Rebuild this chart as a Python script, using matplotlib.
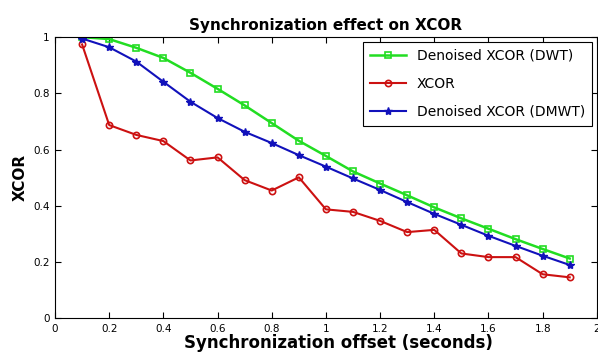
import matplotlib
matplotlib.use("Agg")
import matplotlib.pyplot as plt

offset = [0.1, 0.2, 0.3, 0.4, 0.5, 0.6, 0.7, 0.8, 0.9, 1.0,
          1.1, 1.2, 1.3, 1.4, 1.5, 1.6, 1.7, 1.8, 1.9]
dwt = [1.000, 0.993, 0.962, 0.926, 0.873, 0.816, 0.757, 0.694, 0.631, 0.577,
       0.522, 0.479, 0.437, 0.394, 0.355, 0.318, 0.281, 0.246, 0.212]
xcor = [0.974, 0.687, 0.652, 0.630, 0.561, 0.572, 0.491, 0.454, 0.501, 0.387,
        0.378, 0.346, 0.306, 0.314, 0.230, 0.217, 0.217, 0.156, 0.145]
dmwt = [0.995, 0.964, 0.913, 0.841, 0.770, 0.712, 0.663, 0.623, 0.580, 0.539,
        0.497, 0.456, 0.413, 0.371, 0.332, 0.293, 0.257, 0.222, 0.189]

xticks = [0, 0.2, 0.4, 0.6, 0.8, 1, 1.2, 1.4, 1.6, 1.8, 2]
xtick_labels = ["0", "0.2", "0.4", "0.6", "0.8", "1", "1.2", "1.4", "1.6", "1.8", "2"]
yticks = [0, 0.2, 0.4, 0.6, 0.8, 1]
ytick_labels = ["0", "0.2", "0.4", "0.6", "0.8", "1"]

fig = plt.figure(figsize=(5.98, 3.57), dpi=100)
ax = fig.add_axes([0.092, 0.109, 0.906, 0.787])

ax.plot(offset, dwt, color="#22dd22", marker="s", markersize=5, markerfacecolor="none",
        markeredgewidth=1.2, linewidth=1.8, label="Denoised XCOR (DWT)")
ax.plot(offset, xcor, color="#cc1111", marker="o", markersize=4.5, markerfacecolor="none",
        markeredgewidth=1.2, linewidth=1.5, label="XCOR")
ax.plot(offset, dmwt, color="#1111bb", marker="*", markersize=6,
        linewidth=1.5, label="Denoised XCOR (DMWT)")

ax.set_xlim(0, 2)
ax.set_ylim(0, 1)
ax.set_xticks(xticks)
ax.set_xticklabels(xtick_labels)
ax.set_yticks(yticks)
ax.set_yticklabels(ytick_labels)
ax.tick_params(direction="in", top=True, right=True, labelsize=7.5, length=4, pad=4)

ax.set_title("Synchronization effect on XCOR", fontsize=11, fontweight="bold", pad=5)
ax.set_xlabel("Synchronization offset (seconds)", fontsize=12, fontweight="bold",
              labelpad=0, x=0.523)
ax.set_ylabel("XCOR", fontsize=11, fontweight="bold", labelpad=4)

leg = ax.legend(loc="upper right", fontsize=10, fancybox=False, framealpha=1,
                edgecolor="black", borderaxespad=0.35, handlelength=2.6,
                labelspacing=1.0, borderpad=0.5)
leg.get_frame().set_linewidth(0.8)

fig.savefig("out.png", dpi=100)
